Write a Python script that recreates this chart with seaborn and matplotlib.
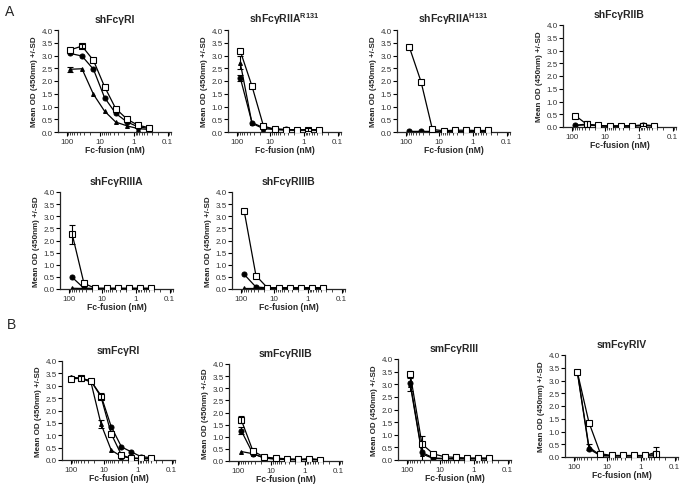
import numpy as np
import seaborn as sns
import matplotlib.pyplot as plt
import matplotlib.ticker as mticker

sns.set_style("ticks")
plt.rcParams['font.family'] = ['Liberation Sans', 'DejaVu Sans']
plt.rcParams['mathtext.fontset'] = 'custom'
plt.rcParams['mathtext.rm'] = 'Liberation Sans'
plt.rcParams['mathtext.bf'] = 'Liberation Sans:bold'

# Fc-fusion concentrations (nM) read from the x positions
conc = [78, 35, 16, 7.5, 3.5, 1.6, 0.75, 0.35]
conc_b1 = [100, 50, 25, 12.5, 6.25, 3.1, 1.6, 0.8, 0.4]

titles = ["shFc\u03b3RI", "shFc\u03b3RIIA$^{\\mathbf{R131}}$", "shFc\u03b3RIIA$^{\\mathbf{H131}}$",
          "shFc\u03b3RIIB", "shFc\u03b3RIIIA", "shFc\u03b3RIIIB",
          "smFc\u03b3RI", "smFc\u03b3RIIB", "smFc\u03b3RIII", "smFc\u03b3RIV"]

# open squares
sq = [
    [3.22, 3.37, 2.81, 1.78, 0.92, 0.50, 0.26, 0.17],
    [3.18, 1.80, 0.24, 0.10, 0.08, 0.08, 0.08, 0.08],
    [3.34, 1.98, 0.10, 0.05, 0.07, 0.07, 0.06, 0.06],
    [0.45, 0.10, 0.06, 0.04, 0.04, 0.04, 0.05, 0.04],
    [2.25, 0.23, 0.03, 0.03, 0.03, 0.03, 0.03, 0.03],
    [3.20, 0.55, 0.05, 0.05, 0.05, 0.05, 0.05, 0.05],
    [3.28, 3.30, 3.20, 2.55, 1.06, 0.20, 0.07, 0.07, 0.07],
    [1.70, 0.41, 0.16, 0.12, 0.09, 0.07, 0.07, 0.06],
    [3.40, 0.63, 0.24, 0.13, 0.10, 0.08, 0.08, 0.08],
    [3.35, 1.35, 0.13, 0.06, 0.06, 0.06, 0.06, 0.10],
]
# filled circles
ci = [
    [3.08, 2.98, 2.46, 1.35, 0.73, 0.39, 0.20, 0.14],
    [2.13, 0.37, 0.17, 0.13, 0.10, 0.08, 0.08, 0.07],
    [0.02, 0.02, 0.02, 0.02, 0.02, 0.02, 0.02, 0.02],
    [0.07, 0.08, 0.05, 0.03, 0.04, 0.04, 0.07, 0.05],
    [0.48, 0.03, 0.02, 0.02, 0.02, 0.02, 0.02, 0.02],
    [0.60, 0.08, 0.05, 0.05, 0.05, 0.05, 0.05, 0.05],
    [3.30, 3.30, 3.20, 2.60, 1.35, 0.53, 0.33, 0.13, 0.10],
    [1.25, 0.30, 0.12, 0.09, 0.07, 0.06, 0.05, 0.05],
    [3.05, 0.30, 0.08, 0.06, 0.05, 0.05, 0.05, 0.05],
    [3.35, 0.32, 0.05, 0.04, 0.04, 0.04, 0.04, 0.05],
]
# small filled triangles
tr = [
    [2.46, 2.48, 1.48, 0.82, 0.39, 0.24, 0.13, 0.10],
    [2.72, 0.34, 0.13, 0.10, 0.08, 0.07, 0.10, 0.08],
    [0.02, 0.02, 0.02, 0.02, 0.02, 0.02, 0.02, 0.02],
    [0.06, 0.12, 0.05, 0.03, 0.04, 0.05, 0.08, 0.05],
    [0.03, 0.02, 0.02, 0.02, 0.02, 0.02, 0.02, 0.02],
    [0.05, 0.05, 0.05, 0.05, 0.05, 0.05, 0.05, 0.05],
    [3.35, 3.30, 3.15, 1.45, 0.40, 0.14, 0.08, 0.05, 0.05],
    [0.39, 0.30, 0.12, 0.08, 0.06, 0.05, 0.10, 0.05],
    [2.98, 0.24, 0.06, 0.05, 0.05, 0.05, 0.05, 0.05],
    [3.38, 0.39, 0.06, 0.05, 0.05, 0.05, 0.05, 0.20],
]
# SD for the visible error bars: (panel, series, point index, sd)
err_bars = [
    (0, 'tr', 0, 0.10), (0, 'sq', 1, 0.08),
    (1, 'tr', 0, 0.25), (1, 'ci', 0, 0.12), (1, 'tr', 6, 0.06),
    (3, 'tr', 1, 0.12), (3, 'tr', 6, 0.06),
    (4, 'sq', 0, 0.40),
    (6, 'ci', 3, 0.12), (6, 'tr', 3, 0.15), (6, 'sq', 1, 0.10),
    (7, 'sq', 0, 0.15), (7, 'ci', 0, 0.15),
    (8, 'tr', 0, 0.25), (8, 'tr', 1, 0.70),
    (9, 'tr', 1, 0.12), (9, 'tr', 7, 0.20),
]

# axes boxes in pixels: left, top(y=4), right, bottom(y=0)
boxes = [
    (58, 31, 171, 133), (228, 31, 341, 133), (397, 31, 510, 133), (563, 26, 676, 128),
    (60, 193, 173, 290), (232, 193, 345, 290),
    (62, 362, 175, 461), (229, 365, 342, 462), (398, 360, 511, 461), (565, 356, 678, 458),
]

W, H = 685, 485
fig = plt.figure(figsize=(W / 100, H / 100), dpi=100)

series = {'sq': sq, 'ci': ci, 'tr': tr}
styles = {
    'sq': dict(marker='s', markersize=4.5, markerfacecolor='white', markeredgecolor='black', markeredgewidth=0.8),
    'ci': dict(marker='o', markersize=3.6, markerfacecolor='black', markeredgecolor='black'),
    'tr': dict(marker='^', markersize=2.8, markerfacecolor='black', markeredgecolor='black'),
}

for i, (l, t, r, b) in enumerate(boxes):
    ax = fig.add_axes([l / W, 1 - b / H, (r - l) / W, (b - t) / H])
    ax.set_xscale('log')
    x = conc_b1 if i == 6 else conc
    for key in ['tr', 'ci', 'sq']:
        sns.lineplot(x=x, y=series[key][i], ax=ax, color='black', linewidth=0.9,
                     zorder=3 if key == 'sq' else 2, **styles[key])
    for p, key, j, sd in err_bars:
        if p == i:
            ax.errorbar(x[j], series[key][i][j], yerr=sd, fmt='none', ecolor='black',
                        elinewidth=0.8, capsize=2, capthick=0.8, zorder=4)
    ax.set_xlim(180, 0.08)
    ax.set_ylim(0, 4)
    ax.set_yticks(np.arange(0, 4.01, 0.5))
    ax.yaxis.set_major_formatter(mticker.FormatStrFormatter('%.1f'))
    ax.set_xticks([100, 10, 1, 0.1])
    ax.set_xticklabels(['100', '10', '1', '0.1'])
    ax.xaxis.set_minor_locator(mticker.LogLocator(base=10, subs=np.arange(2, 10)))
    ax.xaxis.set_minor_formatter(mticker.NullFormatter())
    ax.tick_params(axis='both', which='major', labelsize=5.8, length=3, width=0.8,
                   pad=1, colors='black', labelcolor='#333333')
    ax.tick_params(axis='x', which='minor', length=1.8, width=0.6)
    for s in ['left', 'bottom']:
        ax.spines[s].set_linewidth(0.9)
    sns.despine(ax=ax)
    ax.set_title(titles[i], fontsize=7.5, fontweight='bold', pad=6)
    ax.set_ylabel('Mean OD (450nm) +/-SD', fontsize=5.8, fontweight='bold', labelpad=2)
    ax.set_xlabel('Fc-fusion (nM)', fontsize=6.2, fontweight='bold', labelpad=0)

fig.text(5 / W, 1 - 12 / H, 'A', fontsize=10, va='center', ha='left')
fig.text(7 / W, 1 - 325 / H, 'B', fontsize=10, va='center', ha='left')

fig.savefig('out.png', dpi=100)
